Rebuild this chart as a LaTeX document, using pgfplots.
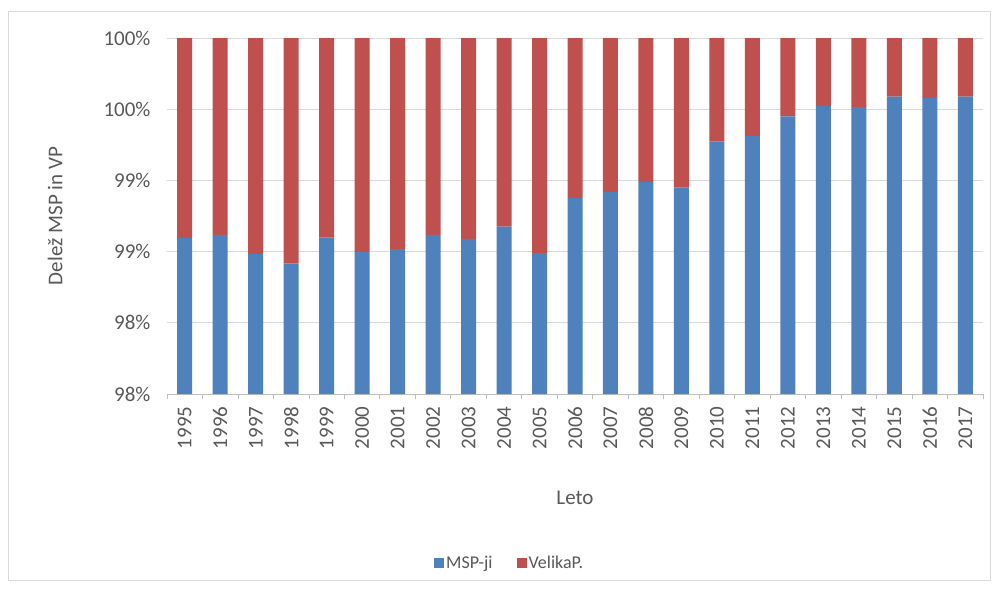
\documentclass[border=0pt]{standalone}
\usepackage{pgfplots}
\pgfplotsset{compat=1.18}
\usepackage{fontspec}
\setmainfont{Carlito}
\definecolor{cblue}{HTML}{4F81BD}
\definecolor{cred}{HTML}{C0504D}
\definecolor{ctext}{HTML}{595959}
\definecolor{cgrid}{HTML}{D9D9D9}
\definecolor{caxis}{HTML}{BFBFBF}
\pgfplotstableread{
x year msp velika
0 1995 98.594 1.406
1 1996 98.617 1.383
2 1997 98.482 1.518
3 1998 98.418 1.582
4 1999 98.598 1.402
5 2000 98.496 1.504
6 2001 98.517 1.483
7 2002 98.617 1.383
8 2003 98.589 1.411
9 2004 98.676 1.324
10 2005 98.489 1.511
11 2006 98.875 1.125
12 2007 98.917 1.083
13 2008 98.988 1.012
14 2009 98.950 1.050
15 2010 99.273 0.727
16 2011 99.313 0.687
17 2012 99.449 0.551
18 2013 99.524 0.476
19 2014 99.515 0.485
20 2015 99.589 0.411
21 2016 99.578 0.422
22 2017 99.589 0.411
}\datatable
\begin{document}
\begin{tikzpicture}
\useasboundingbox (0pt,0pt) rectangle (996pt,590pt);
\fill[white] (0pt,0pt) rectangle (996pt,590pt);
\draw[cgrid, line width=1pt] (8pt,10pt) rectangle (990pt,578pt);
\begin{axis}[
  at={(167pt,196pt)}, anchor=south west,
  scale only axis, width=816pt, height=356pt,
  ybar stacked, bar width=15pt,
  xmin=-0.5, xmax=22.5, ymin=97.5, ymax=100,
  xtick={-0.5,0.5,...,22.5},
  xticklabels={},
  xtick style={draw=caxis, line width=0.8pt},
  major tick length=5pt, tick align=outside,
  extra x ticks={0,...,22},
  extra x tick labels={1995,1996,1997,1998,1999,2000,2001,2002,2003,2004,2005,2006,2007,2008,2009,2010,2011,2012,2013,2014,2015,2016,2017},
  extra x tick style={major tick length=0pt, xticklabel style={rotate=90, anchor=east, font=\fontsize{21}{21}\selectfont, text=ctext, xshift=-9pt}},
  ytick={97.5,98,98.5,99,99.5,100},
  yticklabels={98\%,98\%,99\%,99\%,100\%,100\%},
  yticklabel style={font=\fontsize{21}{21}\selectfont, text=ctext, xshift=-8pt},
  ytick style={draw=none},
  ymajorgrids, grid style={cgrid, line width=0.9pt},
  axis x line*=bottom, axis y line*=left,
  x axis line style={draw=caxis, line width=1pt, -},
  y axis line style={draw=none},
  xlabel={Leto},
  xlabel style={at={(axis description cs:0.5,-0.292)}, anchor=center, font=\fontsize{21}{21}\selectfont, text=ctext},
  ylabel={Delež MSP in VP},
  ylabel style={at={(axis description cs:-0.137,0.5)}, anchor=center, font=\fontsize{21}{21}\selectfont, text=ctext},
  legend columns=2,
  legend style={at={(axis description cs:0.42,-0.475)}, anchor=center, draw=none, fill=none, font=\fontsize{18}{18}\selectfont, text=ctext, /tikz/every even column/.append style={column sep=22pt}},
  legend image code/.code={\fill[#1] (0pt,-5pt) rectangle (10pt,5pt);},
  /pgf/number format/assume math mode=true,
]
\addplot[fill=cblue, draw=none] table[x=x, y=msp] {\datatable};
\addplot[fill=cred, draw=none] table[x=x, y=velika] {\datatable};
\legend{MSP-ji, VelikaP.}
\end{axis}
\end{tikzpicture}
\end{document}
